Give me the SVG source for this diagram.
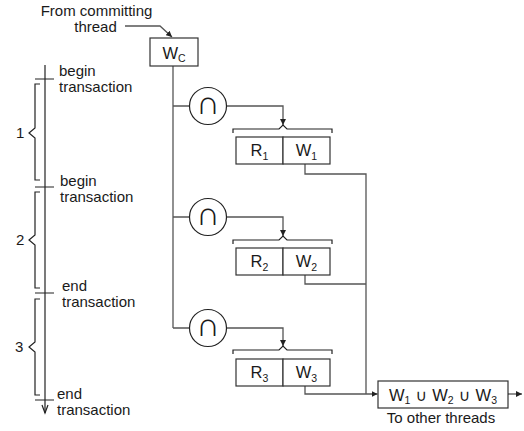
<svg xmlns="http://www.w3.org/2000/svg" width="524" height="431" viewBox="0 0 524 431">
  <defs>
    <marker id="arr" viewBox="0 0 10 10" refX="10" refY="5" markerWidth="6" markerHeight="6" markerUnits="userSpaceOnUse" orient="auto">
      <path d="M0,0 L10,5 L0,10 z" fill="#222"/>
    </marker>
  </defs>
  <style>
    text { font-family: "Liberation Sans", Arial, sans-serif; fill: #1a1a1a; }
    .lbl { font-size: 15px; }
    .box { fill: #fff; stroke: #333; stroke-width: 1.2; }
    .big { font-size: 16.5px; }
    .sub { font-size: 10.5px; }
    .cup { font-family: "DejaVu Sans", sans-serif; font-size: 16px; }
    .wire { fill: none; stroke: #555; stroke-width: 1.3; }
    .tl { fill: none; stroke: #222; stroke-width: 1.2; }
    .cap { font-family: "Liberation Sans", "DejaVu Sans", sans-serif; font-size: 33px; }
  </style>

  <!-- time line with transaction boundaries -->
  <g id="timeline">
    <path class="tl" d="M45,65 V413"/>
    <path class="tl" d="M42,405 L45,413 L48,405"/>
    <path class="tl" d="M35,79 H54 M35,187 H54 M35,293 H54 M35,400 H54"/>
    <path class="tl" d="M40,84 H35 V128 L29,133 L35,138 V180 H40"/>
    <path class="tl" d="M40,192 H35 V235 L29,240 L35,245 V288 H40"/>
    <path class="tl" d="M40,299 H35 V342 L29,347 L35,352 V395 H40"/>
    <text class="lbl" x="16" y="138">1</text>
    <text class="lbl" x="16" y="245">2</text>
    <text class="lbl" x="15" y="352">3</text>
    <text class="lbl" x="59" y="76">begin</text>
    <text class="lbl" x="59" y="92">transaction</text>
    <text class="lbl" x="60" y="186">begin</text>
    <text class="lbl" x="60" y="202">transaction</text>
    <text class="lbl" x="62" y="291">end</text>
    <text class="lbl" x="62" y="307">transaction</text>
    <text class="lbl" x="57" y="399">end</text>
    <text class="lbl" x="57" y="415">transaction</text>
  </g>

  <!-- connectors -->
  <g id="connectors">
    <path class="wire" d="M125,26 H160 L172,37" stroke="#222" marker-end="url(#arr)"/>
    <path class="wire" d="M173,66 V328"/>
    <path class="wire" d="M173,106 H189.5 M173,217 H189.5 M173,328 H189.5"/>
    <path class="wire" d="M226.5,106 H283 V125" marker-end="url(#arr)"/>
    <path class="wire" d="M226.5,217 H283 V236" marker-end="url(#arr)"/>
    <path class="wire" d="M226.5,328 H283 V346" marker-end="url(#arr)"/>
    <path class="tl" d="M233,133 V129 H279 L283,125 L287,129 H332 V133"/>
    <path class="tl" d="M233,244 V240 H279 L283,236 L287,240 H332 V244"/>
    <path class="tl" d="M233,354 V350 H279 L283,346 L287,350 H332 V354"/>
    <path class="wire" d="M305,164 V174 H366 V394"/>
    <path class="wire" d="M305,275 V284 H366"/>
    <path class="wire" d="M305,386 V394 H377.5" marker-end="url(#arr)"/>
    <path class="wire" d="M508,394 H522" stroke="#222" marker-end="url(#arr)"/>
  </g>

  <g id="source">
    <text class="lbl" x="96.5" y="16" text-anchor="middle">From committing</text>
    <text class="lbl" x="95.5" y="32" text-anchor="middle">thread</text>
  </g>

  <g id="wc">
    <rect class="box" x="150" y="38" width="48" height="28"/>
    <text class="big" x="174" y="59" text-anchor="middle">W<tspan class="sub" dy="3">C</tspan></text>
  </g>

  <g id="cap1">
    <circle cx="208" cy="106" r="18.5" fill="#fff" stroke="#222" stroke-width="1.2"/>
    <text class="cap" x="208" y="114" text-anchor="middle">∩</text>
  </g>
  <g id="cap2">
    <circle cx="208" cy="217" r="18.5" fill="#fff" stroke="#222" stroke-width="1.2"/>
    <text class="cap" x="208" y="225" text-anchor="middle">∩</text>
  </g>
  <g id="cap3">
    <circle cx="208" cy="328" r="18.5" fill="#fff" stroke="#222" stroke-width="1.2"/>
    <text class="cap" x="208" y="336" text-anchor="middle">∩</text>
  </g>

  <g id="tx1">
    <rect class="box" x="236" y="137" width="47" height="27"/>
    <rect class="box" x="283" y="137" width="47" height="27"/>
    <text class="big" x="259.5" y="156" text-anchor="middle">R<tspan class="sub" dy="4">1</tspan></text>
    <text class="big" x="306.5" y="156" text-anchor="middle">W<tspan class="sub" dy="4">1</tspan></text>
  </g>
  <g id="tx2">
    <rect class="box" x="236" y="248" width="47" height="27"/>
    <rect class="box" x="283" y="248" width="47" height="27"/>
    <text class="big" x="259.5" y="267" text-anchor="middle">R<tspan class="sub" dy="4">2</tspan></text>
    <text class="big" x="306.5" y="267" text-anchor="middle">W<tspan class="sub" dy="4">2</tspan></text>
  </g>
  <g id="tx3">
    <rect class="box" x="236" y="359" width="47" height="27"/>
    <rect class="box" x="283" y="359" width="47" height="27"/>
    <text class="big" x="259.5" y="378" text-anchor="middle">R<tspan class="sub" dy="4">3</tspan></text>
    <text class="big" x="306.5" y="378" text-anchor="middle">W<tspan class="sub" dy="4">3</tspan></text>
  </g>

  <g id="union">
    <rect class="box" x="378" y="381" width="130" height="27"/>
    <text class="big" x="443" y="401" text-anchor="middle">W<tspan class="sub" dy="3">1</tspan><tspan class="cup" dy="-3"> ∪ </tspan>W<tspan class="sub" dy="3">2</tspan><tspan class="cup" dy="-3"> ∪ </tspan>W<tspan class="sub" dy="3">3</tspan></text>
    <text class="lbl" x="441" y="423" text-anchor="middle">To other threads</text>
  </g>
</svg>
